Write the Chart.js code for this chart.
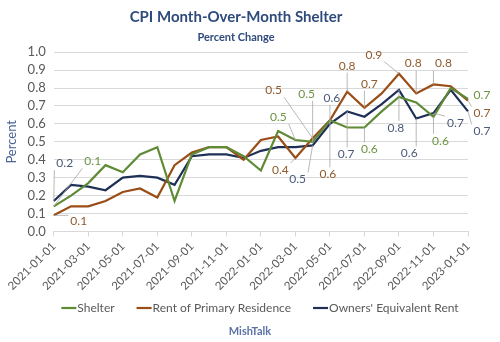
<!DOCTYPE html>
<html>
<head>
<meta charset="utf-8">
<script src="https://cdn.jsdelivr.net/npm/chart.js@4"></script>
<style>
    body { margin: 0; background: #fff; }
</style>
</head>
<body>
<canvas id="cpiChart" width="500" height="342"></canvas>
<script>
// 月份标签
const months = [
    '2021-01-01', '2021-02-01', '2021-03-01', '2021-04-01', '2021-05-01', '2021-06-01',
    '2021-07-01', '2021-08-01', '2021-09-01', '2021-10-01', '2021-11-01', '2021-12-01',
    '2022-01-01', '2022-02-01', '2022-03-01', '2022-04-01', '2022-05-01', '2022-06-01',
    '2022-07-01', '2022-08-01', '2022-09-01', '2022-10-01', '2022-11-01', '2022-12-01',
    '2023-01-01'
];

// 三条序列
const shelter = [0.14, 0.20, 0.27, 0.37, 0.33, 0.43, 0.47, 0.17, 0.43, 0.47, 0.47, 0.42,
    0.34, 0.56, 0.51, 0.50, 0.62, 0.58, 0.58, 0.67, 0.75, 0.72, 0.64, 0.80, 0.74];
const rent = [0.09, 0.14, 0.14, 0.17, 0.22, 0.24, 0.19, 0.37, 0.44, 0.47, 0.47, 0.40,
    0.51, 0.53, 0.41, 0.52, 0.62, 0.78, 0.69, 0.77, 0.88, 0.77, 0.82, 0.81, 0.73];
const oer = [0.17, 0.26, 0.25, 0.23, 0.30, 0.31, 0.30, 0.26, 0.42, 0.43, 0.43, 0.41,
    0.45, 0.47, 0.47, 0.48, 0.60, 0.67, 0.64, 0.71, 0.79, 0.63, 0.66, 0.79, 0.67];

const yTicks = [0, 0.1, 0.2, 0.3, 0.4, 0.5, 0.6, 0.7, 0.8, 0.9, 1.0];

const FONT = 'Lato, "Open Sans", sans-serif';
const colors = ['#5f8b36', '#9a4d16', '#1f3057'];
const labelColors = ['#6e9444', '#8f5a2c', '#4a5a78'];

// 数据标签：ds = 序列下标, i = 月份下标, dx/dy = 文字相对点的偏移
const dataLabels = [
    {ds: 2, i: 0, dx: 11, dy: -38},
    {ds: 0, i: 0, dx: 39, dy: -45},
    {ds: 1, i: 0, dx: 25, dy: 6},
    {ds: 1, i: 14, dx: -15, dy: 12},
    {ds: 0, i: 14, dx: -17, dy: -23},
    {ds: 1, i: 15, dx: -39, dy: -48},
    {ds: 0, i: 15, dx: -6, dy: -48},
    {ds: 2, i: 15, dx: -15, dy: 34},
    {ds: 1, i: 16, dx: -2, dy: 54},
    {ds: 2, i: 16, dx: 2, dy: -26},
    {ds: 1, i: 17, dx: 0, dy: -26},
    {ds: 2, i: 17, dx: -1, dy: 43},
    {ds: 0, i: 18, dx: 5, dy: 22},
    {ds: 1, i: 18, dx: 5, dy: -24},
    {ds: 1, i: 20, dx: -25, dy: -19},
    {ds: 2, i: 20, dx: -3, dy: 38},
    {ds: 1, i: 21, dx: -3, dy: -30},
    {ds: 2, i: 21, dx: -7, dy: 35},
    {ds: 1, i: 22, dx: 10, dy: -21},
    {ds: 0, i: 22, dx: 7, dy: 24},
    {ds: 2, i: 22, dx: 22, dy: 10},
    {ds: 0, i: 24, dx: 14, dy: -4},
    {ds: 1, i: 24, dx: 14, dy: 13},
    {ds: 2, i: 24, dx: 14, dy: 20}
];

// 画数据标签和引导线
const labelPlugin = {
    id: 'pointLabels',
    afterDatasetsDraw(chart) {
        const ctx = chart.ctx;
        ctx.save();
        ctx.font = '12px ' + FONT;
        ctx.textAlign = 'center';
        ctx.textBaseline = 'middle';
        dataLabels.forEach(l => {
            const pt = chart.getDatasetMeta(l.ds).data[l.i];
            const value = chart.data.datasets[l.ds].data[l.i];
            const text = value.toFixed(1);
            const tx = pt.x + l.dx;
            const ty = pt.y + l.dy;
            const w = ctx.measureText(text).width / 2 + 2;
            const h = 7;
            // 文字框边上离点最近的位置
            const ex = Math.max(tx - w, Math.min(pt.x, tx + w));
            const ey = Math.max(ty - h, Math.min(pt.y, ty + h));
            if (Math.hypot(ex - pt.x, ey - pt.y) > 6) {
                ctx.strokeStyle = '#a6a6a6';
                ctx.lineWidth = 0.8;
                ctx.beginPath();
                ctx.moveTo(ex, ey);
                ctx.lineTo(pt.x, pt.y);
                ctx.stroke();
            }
            ctx.fillStyle = labelColors[l.ds];
            ctx.fillText(text, tx, ty);
        });
        ctx.restore();
    }
};

// 自己画图例（线段紧贴文字）和底部 MishTalk
const footerPlugin = {
    id: 'footerText',
    afterDraw(chart) {
        const ctx = chart.ctx;
        ctx.save();
        ctx.font = '12px ' + FONT;
        ctx.textBaseline = 'middle';
        ctx.textAlign = 'left';
        const sets = chart.data.datasets;
        const lineW = 15, gap = 22;
        const widths = sets.map(d => lineW + 1 + ctx.measureText(d.label).width);
        const total = widths.reduce((a, b) => a + b, 0) + gap * (sets.length - 1);
        let x = 260 - total / 2;
        const y = 308;
        sets.forEach((d, k) => {
            ctx.strokeStyle = d.borderColor;
            ctx.lineWidth = 2.2;
            ctx.beginPath();
            ctx.moveTo(x, y);
            ctx.lineTo(x + lineW, y);
            ctx.stroke();
            ctx.fillStyle = '#595959';
            ctx.fillText(d.label, x + lineW + 1, y);
            x += widths[k] + gap;
        });

        ctx.font = 'bold 11px ' + FONT;
        ctx.fillStyle = '#5b72a6';
        ctx.textAlign = 'center';
        ctx.fillText('MishTalk', 250, 331);
        ctx.restore();
    }
};

const series = [
    {label: 'Shelter', data: shelter},
    {label: 'Rent of Primary Residence', data: rent},
    {label: "Owners' Equivalent Rent", data: oer}
];

const config = {
    type: 'line',
    data: {
        labels: months,
        datasets: series.map((s, k) => ({
            label: s.label,
            data: s.data,
            borderColor: colors[k],
            backgroundColor: colors[k],
            borderWidth: 2.2,
            pointRadius: 0,
            tension: 0
        }))
    },
    plugins: [labelPlugin, footerPlugin],
    options: {
        responsive: false,
        animation: false,
        layout: {padding: {left: 4, right: 32, top: 0, bottom: 46}},
        plugins: {
            title: {
                display: true,
                text: 'CPI Month-Over-Month Shelter',
                color: '#2f4a7c',
                font: {family: FONT, size: 15, weight: 'bold'},
                padding: {top: 8, bottom: 5}
            },
            subtitle: {
                display: true,
                text: 'Percent Change',
                color: '#2f4a7c',
                font: {family: FONT, size: 11, weight: 'bold'},
                padding: {top: 0, bottom: 8}
            },
            legend: {display: false},
            tooltip: {enabled: false}
        },
        scales: {
            x: {
                grid: {
                    drawOnChartArea: false,
                    tickLength: 5,
                    color: ctx => ctx.index % 2 === 0 ? '#d9d9d9' : 'transparent'
                },
                border: {color: '#d9d9d9'},
                ticks: {
                    autoSkip: false,
                    maxRotation: 45,
                    minRotation: 45,
                    color: '#595959',
                    font: {family: FONT, size: 11.5},
                    callback: function (value, index) {
                        return index % 2 === 0 ? this.getLabelForValue(value) : '';
                    }
                }
            },
            y: {
                min: 0,
                max: 1,
                afterBuildTicks: axis => { axis.ticks = yTicks.map(v => ({value: v})); },
                grid: {color: '#d9d9d9', drawTicks: false},
                border: {display: false},
                ticks: {
                    autoSkip: false,
                    padding: 8,
                    color: '#595959',
                    font: {family: FONT, size: 13},
                    callback: v => v.toFixed(1)
                },
                title: {
                    display: true,
                    text: 'Percent',
                    color: '#4a6296',
                    font: {family: FONT, size: 13},
                    padding: {top: 0, bottom: 0}
                }
            }
        }
    }
};

new Chart(document.getElementById('cpiChart'), config);
</script>
</body>
</html>
